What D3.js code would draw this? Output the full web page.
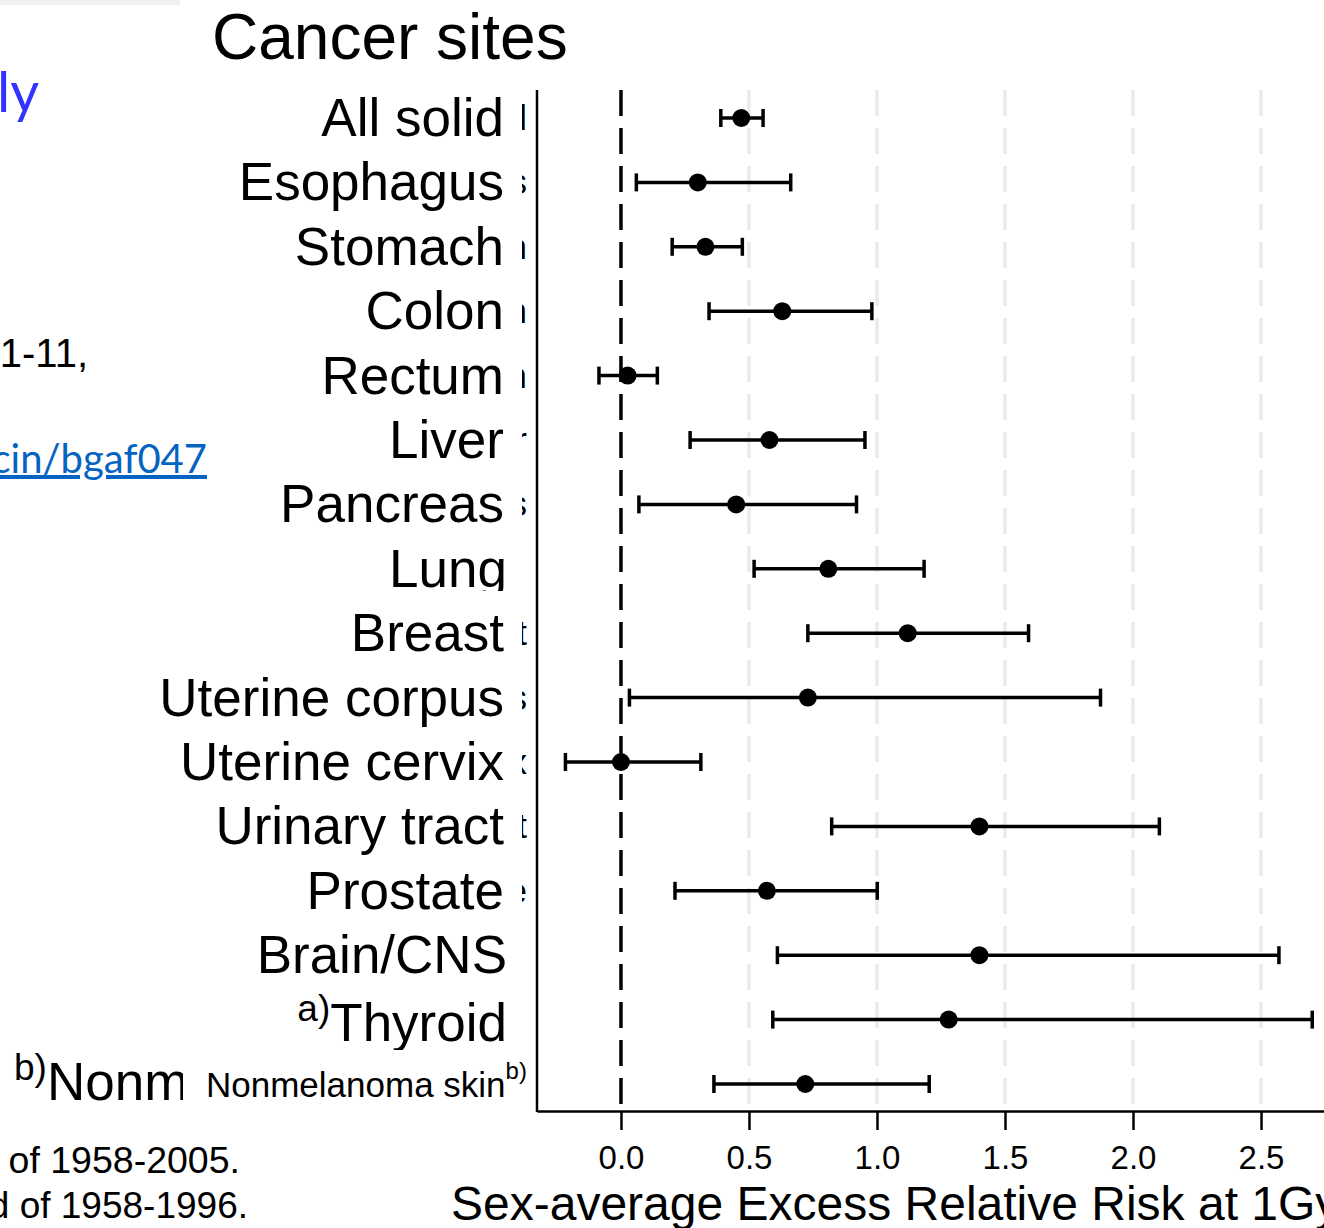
<!DOCTYPE html>
<html>
<head>
<meta charset="utf-8">
<script src="https://cdn.jsdelivr.net/npm/d3@7"></script>
<style>
  body { margin: 0; background: #fff; }
  svg { display: block; }
</style>
</head>
<body>
<div id="vis"></div>
<script>
const W = 1324, H = 1228;

// cancer sites, top to bottom
const sites = ["All solid", "Esophagus", "Stomach", "Colon", "Rectum", "Liver", "Pancreas", "Lung",
  "Breast", "Uterine corpus", "Uterine cervix", "Urinary tract", "Prostate", "Brain/CNS", "Thyroid", "Nonmelanoma skin"];
// sex-averaged ERR at 1 Gy with 95% CI
const errEst = [0.47, 0.30, 0.33, 0.63, 0.026, 0.58, 0.45, 0.81, 1.12, 0.73, 0.0, 1.40, 0.57, 1.40, 1.28, 0.72];
const errLow = [0.39, 0.06, 0.20, 0.344, -0.086, 0.27, 0.07, 0.52, 0.73, 0.033, -0.217, 0.823, 0.211, 0.611, 0.593, 0.363];
const errHigh = [0.555, 0.663, 0.474, 0.98, 0.142, 0.953, 0.92, 1.184, 1.592, 1.873, 0.312, 2.103, 1.001, 2.57, 2.70, 1.204];
const xTicks = [0, 0.5, 1.0, 1.5, 2.0, 2.5];
// rows whose original small label peeks out behind the big slide label
const peekRows = ["All solid", "Esophagus", "Stomach", "Colon", "Rectum", "Liver", "Pancreas",
  "Breast", "Uterine corpus", "Uterine cervix", "Urinary tract", "Prostate"];

const rows = sites.map((s, i) => ({ site: s, est: errEst[i], lo: errLow[i], hi: errHigh[i] }));

const plot = { left: 537, top: 90, bottom: 1111 };

const svg = d3.select("#vis").append("svg")
    .attr("width", W)
    .attr("height", H)
    .style("font-family", "'Liberation Sans', Arial, sans-serif");

svg.append("rect").attr("width", W).attr("height", H).attr("fill", "#fff");

const x = d3.scaleLinear()
    .domain([-0.328, 2.746])
    .range([plot.left, W]);

const y = d3.scalePoint()
    .domain(sites)
    .range([118, 1084]);

// light dashed gridlines
svg.append("g")
    .selectAll("line")
    .data(xTicks.filter(d => d > 0))
    .join("line")
    .attr("x1", d => x(d)).attr("x2", d => x(d))
    .attr("y1", plot.top).attr("y2", plot.bottom)
    .attr("stroke", "#ebebeb")
    .attr("stroke-width", 3.5)
    .attr("stroke-dasharray", "26,12");

// reference line at 0
svg.append("line")
    .attr("x1", x(0)).attr("x2", x(0))
    .attr("y1", plot.top).attr("y2", plot.bottom)
    .attr("stroke", "#000")
    .attr("stroke-width", 3.5)
    .attr("stroke-dasharray", "26,12");

// x axis
const xAxis = d3.axisBottom(x)
    .tickValues(xTicks)
    .tickFormat(d3.format(".1f"))
    .tickSize(19)
    .tickSizeOuter(0)
    .tickPadding(16);

const gx = svg.append("g")
    .attr("transform", `translate(0,${plot.bottom})`)
    .call(xAxis);
gx.select(".domain").attr("stroke-width", 2.5);
gx.selectAll(".tick line").attr("stroke-width", 2.5);
gx.selectAll(".tick text")
    .attr("font-family", "'Liberation Sans', Arial, sans-serif")
    .attr("font-size", 33)
    .attr("fill", "#000");

// y axis line
svg.append("line")
    .attr("x1", plot.left).attr("x2", plot.left)
    .attr("y1", plot.top).attr("y2", plot.bottom + 1)
    .attr("stroke", "#000")
    .attr("stroke-width", 2.5);

// error bars
const bars = svg.append("g").selectAll("g")
    .data(rows)
    .join("g")
    .attr("transform", d => `translate(0,${y(d.site)})`);

bars.append("line")
    .attr("x1", d => x(d.lo)).attr("x2", d => x(d.hi))
    .attr("stroke", "#000").attr("stroke-width", 3.5);
bars.append("line")
    .attr("x1", d => x(d.lo)).attr("x2", d => x(d.lo))
    .attr("y1", -9).attr("y2", 9)
    .attr("stroke", "#000").attr("stroke-width", 3.5);
bars.append("line")
    .attr("x1", d => x(d.hi)).attr("x2", d => x(d.hi))
    .attr("y1", -9).attr("y2", 9)
    .attr("stroke", "#000").attr("stroke-width", 3.5);
bars.append("circle")
    .attr("cx", d => x(d.est))
    .attr("r", 9)
    .attr("fill", "#000");

// original small axis labels, mostly hidden behind the slide labels
svg.append("g").selectAll("text")
    .data(peekRows)
    .join("text")
    .attr("x", 527)
    .attr("y", d => y(d) + 12)
    .attr("text-anchor", "end")
    .attr("font-size", 35)
    .text(d => d);

svg.append("rect")
    .attr("x", 140).attr("y", 86)
    .attr("width", 382).attr("height", 960)
    .attr("fill", "#fff");

// big slide labels
const bigLabels = svg.append("g")
    .attr("font-size", 53)
    .attr("fill", "#000");

bigLabels.selectAll("text")
    .data(sites.slice(0, 14))
    .join("text")
    .attr("x", d => ["Lung", "Brain/CNS"].includes(d) ? 507 : 504)
    .attr("y", d => y(d) + 18)
    .attr("text-anchor", "end")
    .text(d => d);

// Lung descender is cut off on the slide
svg.append("rect")
    .attr("x", 380).attr("y", 591)
    .attr("width", 135).attr("height", 12)
    .attr("fill", "#fff");

const thy = bigLabels.append("text")
    .attr("x", 507)
    .attr("y", y("Thyroid") + 21)
    .attr("text-anchor", "end");
thy.append("tspan").attr("font-size", 37).attr("dy", -20).text("a)");
thy.append("tspan").attr("dy", 20).text("Thyroid");

const nms = bigLabels.append("text")
    .attr("x", 14)
    .attr("y", y("Nonmelanoma skin") + 16);
nms.append("tspan").attr("font-size", 37).attr("dy", -20).text("b)");
nms.append("tspan").attr("dy", 20).text("Nonmelanoma skin");

svg.append("rect")
    .attr("x", 183).attr("y", 1050)
    .attr("width", 350).attr("height", 58)
    .attr("fill", "#fff");

svg.append("defs").append("clipPath")
    .attr("id", "supClip")
    .append("rect")
    .attr("x", 0).attr("y", 1062).attr("width", 536).attr("height", 60);

const small = svg.append("text")
    .attr("x", 206)
    .attr("y", y("Nonmelanoma skin") + 13)
    .attr("font-size", 35)
    .attr("clip-path", "url(#supClip)");
small.append("tspan").text("Nonmelanoma skin");
small.append("tspan").attr("font-size", 24).attr("dy", -18).text("b)");

// title
svg.append("text")
    .attr("x", 212)
    .attr("y", 59)
    .attr("font-size", 64)
    .text("Cancer sites");

// x axis title
svg.append("text")
    .attr("x", 451)
    .attr("y", 1220)
    .attr("font-size", 48)
    .text("Sex-average Excess Relative Risk at 1Gy");

// leftover slide text on the left
svg.append("rect")
    .attr("x", 0).attr("y", 0)
    .attr("width", 180).attr("height", 5)
    .attr("fill", "#f2f2f2");

svg.append("text")
    .attr("x", -3).attr("y", 112)
    .attr("font-family", "Lato, 'Open Sans', sans-serif")
    .attr("font-size", 56)
    .attr("fill", "#3333ff")
    .text("ly");

svg.append("text")
    .attr("x", 88).attr("y", 367)
    .attr("text-anchor", "end")
    .attr("font-size", 40)
    .text("1-11,");

svg.append("text")
    .attr("x", 207).attr("y", 473)
    .attr("text-anchor", "end")
    .attr("font-family", "Lato, 'Open Sans', sans-serif")
    .attr("font-size", 40)
    .attr("fill", "#0563c1")
    .attr("text-decoration", "underline")
    .text("cin/bgaf047");

svg.append("text")
    .attr("x", 240).attr("y", 1173)
    .attr("text-anchor", "end")
    .attr("font-size", 37.5)
    .text("of 1958-2005.");

svg.append("text")
    .attr("x", 248).attr("y", 1218)
    .attr("text-anchor", "end")
    .attr("font-size", 37)
    .text("d of 1958-1996.");
</script>
</body>
</html>
